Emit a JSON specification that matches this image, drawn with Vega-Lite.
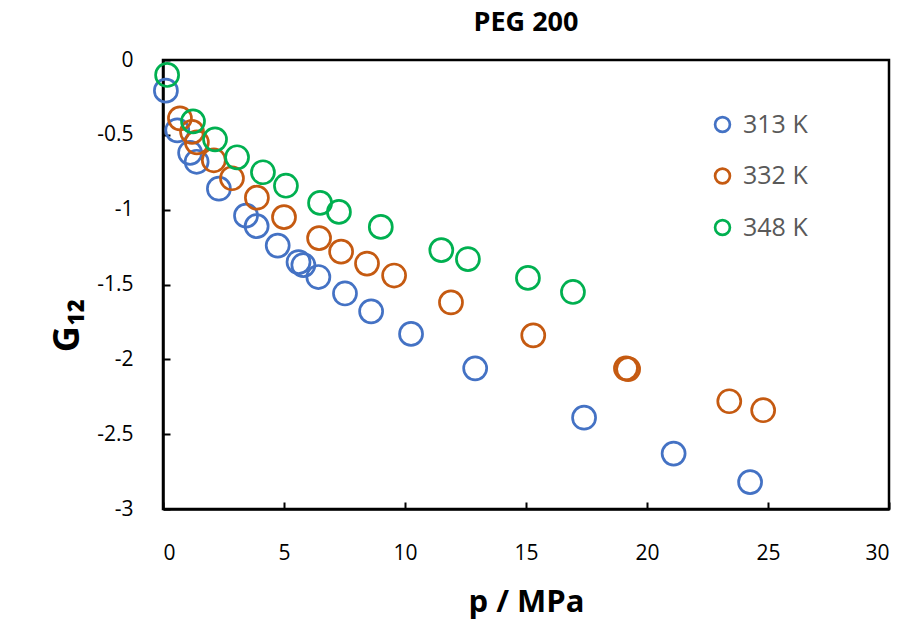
{
  "$schema": "https://vega.github.io/schema/vega-lite/v6.json",
  "autosize": "none",
  "width": 726,
  "height": 449,
  "padding": {"left": 163, "top": 60, "right": 23, "bottom": 125},
  "background": "white",
  "title": {"text": "PEG 200", "font": "Open Sans", "fontSize": 27, "fontWeight": "bold", "color": "black", "offset": 12},
  "config": {
    "view": {"stroke": "black", "strokeWidth": 2.5},
    "axis": {"grid": false, "domainColor": "black", "domainWidth": 2.5, "tickColor": "black", "tickWidth": 2, "labelFont": "Open Sans", "labelFontSize": 21, "labelColor": "black", "titleFont": "Open Sans", "titleColor": "black"}
  },
  "data": {"values": [
    {"series": "313 K", "p": 0.12, "G": -0.205},
    {"series": "313 K", "p": 0.59, "G": -0.47},
    {"series": "313 K", "p": 1.12, "G": -0.62},
    {"series": "313 K", "p": 1.39, "G": -0.68},
    {"series": "313 K", "p": 2.31, "G": -0.86},
    {"series": "313 K", "p": 3.43, "G": -1.04},
    {"series": "313 K", "p": 3.87, "G": -1.11},
    {"series": "313 K", "p": 4.74, "G": -1.24},
    {"series": "313 K", "p": 5.6, "G": -1.35},
    {"series": "313 K", "p": 5.8, "G": -1.37},
    {"series": "313 K", "p": 6.42, "G": -1.45},
    {"series": "313 K", "p": 7.52, "G": -1.56},
    {"series": "313 K", "p": 8.6, "G": -1.68},
    {"series": "313 K", "p": 10.25, "G": -1.83},
    {"series": "313 K", "p": 12.9, "G": -2.06},
    {"series": "313 K", "p": 17.4, "G": -2.39},
    {"series": "313 K", "p": 21.1, "G": -2.63},
    {"series": "313 K", "p": 24.26, "G": -2.82},
    {"series": "332 K", "p": 0.7, "G": -0.39},
    {"series": "332 K", "p": 1.2, "G": -0.48},
    {"series": "332 K", "p": 1.4, "G": -0.55},
    {"series": "332 K", "p": 2.1, "G": -0.67},
    {"series": "332 K", "p": 2.85, "G": -0.79},
    {"series": "332 K", "p": 3.88, "G": -0.92},
    {"series": "332 K", "p": 5.0, "G": -1.05},
    {"series": "332 K", "p": 6.45, "G": -1.19},
    {"series": "332 K", "p": 7.36, "G": -1.28},
    {"series": "332 K", "p": 8.43, "G": -1.36},
    {"series": "332 K", "p": 9.55, "G": -1.44},
    {"series": "332 K", "p": 11.9, "G": -1.62},
    {"series": "332 K", "p": 15.3, "G": -1.84},
    {"series": "332 K", "p": 19.13, "G": -2.06},
    {"series": "332 K", "p": 19.22, "G": -2.065},
    {"series": "332 K", "p": 23.4, "G": -2.28},
    {"series": "332 K", "p": 24.8, "G": -2.34},
    {"series": "348 K", "p": 0.17, "G": -0.1},
    {"series": "348 K", "p": 1.24, "G": -0.41},
    {"series": "348 K", "p": 2.15, "G": -0.53},
    {"series": "348 K", "p": 3.06, "G": -0.65},
    {"series": "348 K", "p": 4.13, "G": -0.75},
    {"series": "348 K", "p": 5.08, "G": -0.84},
    {"series": "348 K", "p": 6.49, "G": -0.955},
    {"series": "348 K", "p": 7.27, "G": -1.015},
    {"series": "348 K", "p": 9.0, "G": -1.115},
    {"series": "348 K", "p": 11.5, "G": -1.27},
    {"series": "348 K", "p": 12.6, "G": -1.33},
    {"series": "348 K", "p": 15.08, "G": -1.456},
    {"series": "348 K", "p": 16.94, "G": -1.55}
  ]},
  "mark": {"type": "point", "shape": "circle", "filled": false, "size": 530, "opacity": 1},
  "encoding": {
    "x": {"field": "p", "type": "quantitative", "scale": {"domain": [0, 30], "nice": false, "zero": false},
      "axis": {"values": [0, 5, 10, 15, 20, 25, 30], "tickSize": -7, "labelPadding": 40, "title": "p / MPa", "titleFontSize": 31, "titleFontWeight": "bold", "titlePadding": 24}},
    "y": {"field": "G", "type": "quantitative", "scale": {"domain": [-3, 0], "nice": false, "zero": false},
      "axis": {"values": [0, -0.5, -1, -1.5, -2, -2.5, -3], "labelExpr": "toString(datum.value)", "tickSize": -7, "labelPadding": 37, "title": "G₁₂", "titleFontSize": 36, "titleFontWeight": "bold", "titlePadding": 10, "titleY": 265}},
    "stroke": {"field": "series", "type": "nominal",
      "scale": {"domain": ["313 K", "332 K", "348 K"], "range": ["#4472C4", "#C55A11", "#00B050"]},
      "legend": {"title": null, "orient": "none", "legendX": 547, "legendY": 52, "symbolSize": 220, "symbolStrokeWidth": 3, "symbolType": "circle", "labelFont": "Open Sans", "labelFontSize": 25, "labelColor": "#595959", "rowPadding": 24.5, "labelOffset": 8}},
    "strokeWidth": {"field": "series", "type": "nominal", "scale": {"domain": ["313 K", "332 K", "348 K"], "range": [2.7, 2.7, 3.9]}, "legend": null}
  }
}
